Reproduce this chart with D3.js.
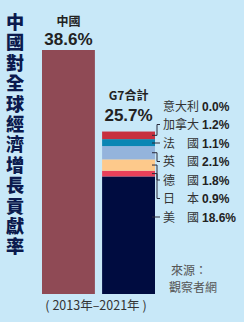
<!DOCTYPE html>
<html>
<head>
<meta charset="utf-8">
<script src="https://cdn.jsdelivr.net/npm/d3@7"></script>
<style>
  body { margin: 0; background: #c8e8f8; }
  svg { display: block; font-family: "Noto Sans CJK TC", "Noto Sans", sans-serif; }
</style>
</head>
<body>
<svg id="chart" width="244" height="322"></svg>
<script>
// data
let title = '中國對全球經濟增長貢獻率';
let bars = ['中國', 'G7合計'];
let barValues = [38.6, 25.7];
let g7Names = ['美　國', '日　本', '德　國', '英　國', '法　國', '加拿大', '意大利']; // bottom to top
let g7Values = [18.6, 0.9, 1.8, 2.1, 1.1, 1.2, 0.0];
let g7Colors = ['#000c40', '#e8415a', '#fdc98b', '#94b4dc', '#0a86b4', '#c8303f', '#5a8a3a'];
let period = '( 2013年–2021年 )';
let source = ['來源：', '觀察者網'];

let svg = d3.select('#chart');

let x = d3.scaleBand()
  .domain(bars)
  .range([42, 155])
  .paddingInner(0.12)
  .paddingOuter(0);

let y = d3.scaleLinear()
  .domain([0, 38.6])
  .range([294, 50]);

// vertical title, one text in vertical writing mode
svg.append('text')
  .attr('x', 15)
  .attr('y', 13)
  .style('writing-mode', 'vertical-rl')
  .style('letter-spacing', '2.2px')
  .attr('font-size', 18.2)
  .attr('font-weight', 900)
  .attr('fill', '#0b1a4d')
  .text(title);

// china bar
svg.append('rect')
  .attr('x', x('中國'))
  .attr('y', y(barValues[0]))
  .attr('width', x.bandwidth())
  .attr('height', y(0) - y(barValues[0]))
  .attr('fill', '#8f4a55');

// g7 stack
let acc = 0;
let segs = g7Values.map((v, i) => {
  let s = { name: g7Names[i], value: v, color: g7Colors[i], y0: acc, y1: acc + v };
  acc += v;
  return s;
});

svg.append('g')
  .selectAll('rect')
  .data(segs)
  .join('rect')
  .attr('x', x('G7合計'))
  .attr('y', d => y(d.y1))
  .attr('width', x.bandwidth())
  .attr('height', d => y(d.y0) - y(d.y1))
  .attr('fill', d => d.color);

// bar top labels
bars.forEach((b, i) => {
  let cx = x(b) + x.bandwidth() / 2;
  let top = y(barValues[i]);
  let off = i ? 6 : 0;
  svg.append('text')
    .attr('x', cx).attr('y', top - 24 - off - (i ? 2 : 0))
    .attr('text-anchor', 'middle')
    .attr('font-size', 12).attr('font-weight', 700).attr('fill', '#222')
    .text(b);
  svg.append('text')
    .attr('x', cx).attr('y', top - 5 - off)
    .attr('text-anchor', 'middle')
    .attr('font-size', 17).attr('font-weight', 700).attr('fill', '#222')
    .attr('font-family', 'Liberation Sans, Arial, sans-serif')
    .text(barValues[i].toFixed(1) + '%');
});

// legend labels, top to bottom
let legend = segs.slice().reverse();
let barRight = x('G7合計') + x.bandwidth();
let labY = (d, i) => 106 + i * 18.5;

let lg = svg.append('g');
legend.forEach((d, i) => {
  let ly = labY(d, i);
  let top = y(d.y1), bot = y(d.y0);
  if (d.value > 0) {
    let sy = (ly >= top && ly <= bot) ? ly : (top + bot) / 2;
    lg.append('path')
      .attr('d', `M${barRight - 3},${sy}H${barRight + 2}V${ly}H${barRight + 5}`)
      .attr('fill', 'none')
      .attr('stroke', '#2a2a3a')
      .attr('stroke-width', 1);
  }
  let t = lg.append('text')
    .attr('x', 163).attr('y', ly + 4.5)
    .attr('font-size', 12).attr('fill', '#333');
  t.append('tspan').text(d.name);
  t.append('tspan')
    .attr('dx', 3)
    .attr('font-weight', 700).attr('fill', '#222')
    .attr('font-family', 'Liberation Sans, Arial, sans-serif')
    .text(d.value.toFixed(1) + '%');
});

// source
svg.append('g')
  .selectAll('text')
  .data(source)
  .join('text')
  .attr('x', (d, i) => i ? 193 : 189)
  .attr('y', (d, i) => 275 + i * 17)
  .attr('text-anchor', 'middle')
  .attr('font-size', 12)
  .attr('fill', '#555')
  .text(d => d);

// period
svg.append('text')
  .attr('x', 96).attr('y', 310)
  .attr('text-anchor', 'middle')
  .attr('font-size', 12.5)
  .attr('fill', '#333')
  .text(period);
</script>
</body>
</html>
